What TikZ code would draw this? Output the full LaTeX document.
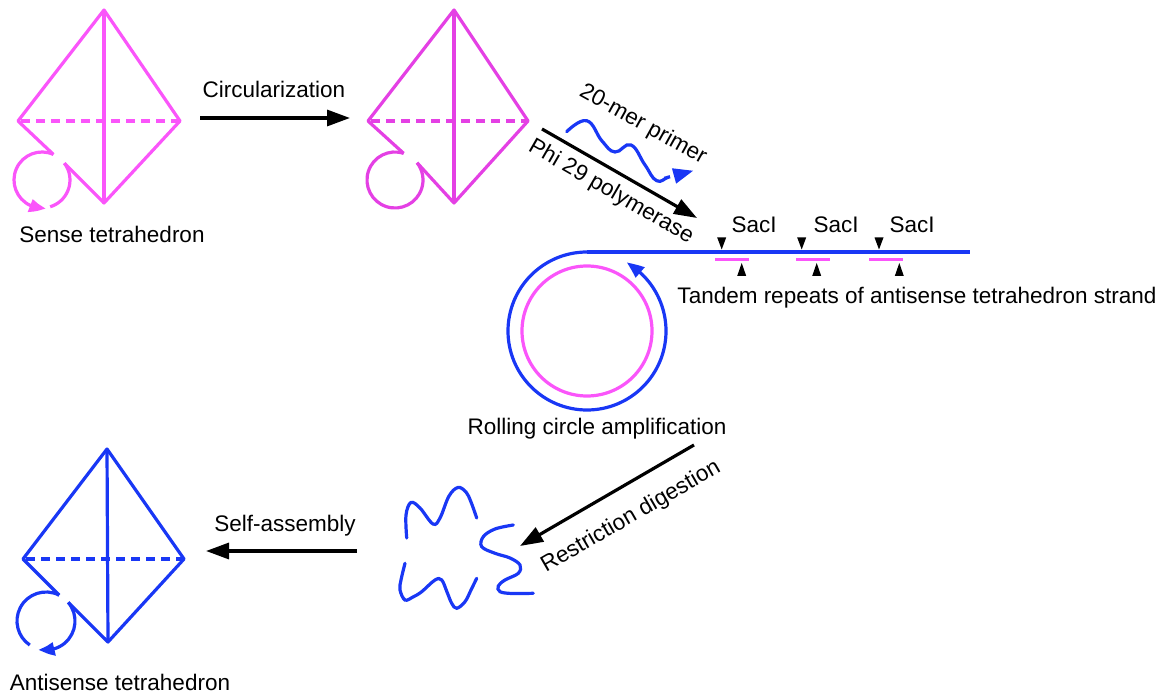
\documentclass[tikz,border=0pt]{standalone}
\usepackage{fontspec}
\setmainfont{Liberation Sans}
\usetikzlibrary{arrows.meta,bending}
\definecolor{pinkA}{RGB}{250,85,250}
\definecolor{pinkB}{RGB}{228,64,228}
\definecolor{dnablue}{RGB}{25,55,245}
\begin{document}
\begin{tikzpicture}[x=1pt,y=1pt,
  edge/.style={line width=3.2pt, line join=round},
  hidden/.style={line width=3.2pt, dash pattern=on 9pt off 6pt, dash phase=-3pt},
  flow/.style={line width=3.2pt, -{Triangle[length=23pt,width=16pt]}},
  looptip/.style={-{Triangle[length=16pt,width=13pt,bend]}},
  lbl/.style={font=\fontsize{22.5}{27}\selectfont, inner sep=0pt},
  strand/.style={line width=3.2pt, line cap=round},
]
\useasboundingbox (0,0) rectangle (1166,693);

% ---------- sense tetrahedron ----------
\begin{scope}[color=pinkA]
  \coordinate (s-top)   at (104,683);
  \coordinate (s-left)  at (18,572);
  \coordinate (s-right) at (180,572);
  \coordinate (s-bot)   at (104,490);
  \coordinate (s-c)     at (42,513);
  \coordinate (s-b1)    at ([shift={(66:28)}]s-c);
  \coordinate (s-b2)    at ([shift={(37:28)}]s-c);
  \draw[edge] (s-b1) -- (s-left) -- (s-top) -- (s-right) -- (s-bot) -- (s-b2);
  \draw[edge] (s-top) -- (s-bot);
  \draw[hidden] (s-left) -- (s-right);
  \draw[edge, looptip] (s-b1) arc[start angle=66, end angle=278, radius=28];
  \draw[edge] (s-b2) arc[start angle=37, end angle=-73, radius=28];
\end{scope}
\node[lbl, anchor=base] (l-sense) at (112,450.5) {Sense tetrahedron};

% ---------- circularization ----------
\coordinate (c-from) at (200,575);
\coordinate (c-to)   at (350,575);
\draw[flow] (c-from) -- (c-to);
\node[lbl, anchor=base] (l-circ) at (274,595) {Circularization};

% ---------- circular tetrahedron ----------
\begin{scope}[color=pinkB]
  \coordinate (k-top)   at (454,683);
  \coordinate (k-left)  at (368,572);
  \coordinate (k-right) at (528,572);
  \coordinate (k-bot)   at (454,490);
  \coordinate (k-c)     at (395,513);
  \coordinate (k-b1)    at ([shift={(72:28)}]k-c);
  \coordinate (k-b2)    at ([shift={(38:28)}]k-c);
  \draw[edge] (k-b1) -- (k-left) -- (k-top) -- (k-right) -- (k-bot) -- (k-b2);
  \draw[edge] (k-top) -- (k-bot);
  \draw[hidden] (k-left) -- (k-right);
  \draw[edge] (k-b1) arc[start angle=72, end angle=398, radius=28];
\end{scope}

% ---------- primer and polymerase ----------
\coordinate (p-from) at (542,564);
\coordinate (p-to)   at (697,475);
\draw[flow] (p-from) -- (p-to);
\node[lbl, rotate=-29] (l-primer) at (643,568) {20-mer primer};
\node[lbl, rotate=-30] (l-phi) at (611,501) {Phi 29 polymerase};
\draw[dnablue, strand, -{Triangle[length=20pt,width=15pt]}]
  plot[smooth, tension=0.75] coordinates {(566.7,561.3) (586.7,572.3) (602,552) (615,541) (631,548) (645,528) (656.7,512.3) (670,516.3) (693.3,522.3)};

% ---------- rolling circle ----------
\coordinate (rc) at (587,362);
\coordinate (rc-top) at ([shift={(90:79)}]rc);
\coordinate (strand-end) at (970,441);
\draw[pinkA, line width=3.2pt] (rc) circle[radius=65];
\draw[dnablue, line width=3.2pt, -{Triangle[length=17pt,width=13pt,bend]}]
  (rc-top) arc[start angle=90, end angle=420, radius=79];
\draw[dnablue, line width=3.2pt] (rc-top) -- (strand-end);
\node[lbl, anchor=base] (l-rca) at (597,258.5) {Rolling circle amplification};

% SacI cut sites
\foreach \xa/\xb/\xc/\xl in {721.7/715/749/741.7, 801.7/796/830/816.7, 879/869/903/899.3}{
  \fill (\xa,443.5) -- (\xa-4.5,455.5) -- (\xa+4.5,455.5) -- cycle;
  \draw[pinkA, line width=3pt] (\xb,433) -- (\xc,433);
  \fill (\xl,430) -- (\xl-4.5,417) -- (\xl+4.5,417) -- cycle;
}
\node[lbl, anchor=base] (l-sac1) at (754,460) {SacI};
\node[lbl, anchor=base] (l-sac2) at (836,460) {SacI};
\node[lbl, anchor=base] (l-sac3) at (912,460) {SacI};
\node[lbl, anchor=base] (l-tandem) at (917,389.5) {Tandem repeats of antisense tetrahedron strand};

% ---------- restriction digestion ----------
\coordinate (r-from) at (694,248);
\coordinate (r-to)   at (520,147);
\draw[flow] (r-from) -- (r-to);
\node[lbl, rotate=30] (l-restr) at (631,176) {Restriction digestion};

% digested fragments
\begin{scope}[dnablue]
  \draw[strand] plot[smooth, tension=0.6] coordinates {(406.7,155) (406,178) (411,190.5) (420,185) (433,169) (440,175) (449,197) (458,205.5) (466,201) (471,191) (476.7,175)};
  \draw[strand] plot[smooth, tension=0.6] coordinates {(513.3,168) (495,164) (483.3,156.3) (481.7,146.3) (495,139.7) (510,135) (520,128) (518.3,119.7) (505,113) (498.3,107) (500,101.3) (512,99.5) (533.3,99.7)};
  \draw[strand] plot[smooth, tension=0.6] coordinates {(405,129.7) (401,113) (400,103) (405,93) (413,96) (421.7,101.3) (435,113) (441.7,113) (447,101) (451.7,89.7) (456.7,84.7) (465,91.3) (471,103) (476.7,114.7)};
\end{scope}

% ---------- self-assembly ----------
\coordinate (a-from) at (357,142);
\coordinate (a-to)   at (206,142);
\draw[flow] (a-from) -- (a-to);
\node[lbl, anchor=base] (l-self) at (285,161.3) {Self-assembly};

% ---------- antisense tetrahedron ----------
\begin{scope}[color=dnablue]
  \coordinate (a-top)   at (107,244);
  \coordinate (a-left)  at (23,134);
  \coordinate (a-right) at (184,134);
  \coordinate (a-bot)   at (108,51);
  \coordinate (a-c)     at (46,72);
  \coordinate (a-b1)    at ([shift={(63:29)}]a-c);
  \coordinate (a-b2)    at ([shift={(40:29)}]a-c);
  \draw[edge] (a-b1) -- (a-left) -- (a-top) -- (a-right) -- (a-bot) -- (a-b2);
  \draw[edge] (a-top) -- (a-bot);
  \draw[hidden] (a-left) -- (a-right);
  \draw[edge] (a-b1) arc[start angle=63, end angle=236, radius=29];
  \draw[edge, looptip] (a-b2) arc[start angle=40, end angle=-105, radius=29];
\end{scope}
\node[lbl, anchor=base] (l-anti) at (120,3) {Antisense tetrahedron};
\end{tikzpicture}
\end{document}
